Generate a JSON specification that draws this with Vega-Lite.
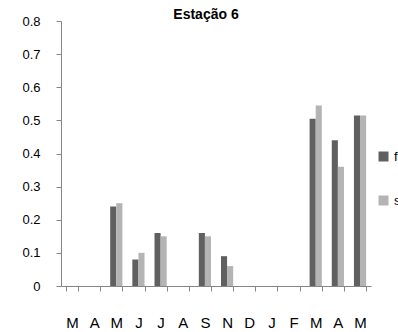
{
  "$schema": "https://vega.github.io/schema/vega-lite/v6.json",
  "width": 310,
  "height": 265,
  "padding": {"left": 21, "top": 8, "right": 0, "bottom": 0},
  "background": "white",
  "title": {"text": "Estação 6", "fontSize": 14, "font": "Liberation Sans", "fontWeight": "bold", "color": "#000000", "anchor": "middle", "offset": -7, "dx": -10},
  "data": {"values": [
    {"k": "M1", "serie": "fundo", "v": 0.24},
    {"k": "M1", "serie": "superfície", "v": 0.25},
    {"k": "J1", "serie": "fundo", "v": 0.08},
    {"k": "J1", "serie": "superfície", "v": 0.10},
    {"k": "J2", "serie": "fundo", "v": 0.16},
    {"k": "J2", "serie": "superfície", "v": 0.15},
    {"k": "S", "serie": "fundo", "v": 0.16},
    {"k": "S", "serie": "superfície", "v": 0.15},
    {"k": "N", "serie": "fundo", "v": 0.09},
    {"k": "N", "serie": "superfície", "v": 0.06},
    {"k": "M2", "serie": "fundo", "v": 0.505},
    {"k": "M2", "serie": "superfície", "v": 0.545},
    {"k": "A2", "serie": "fundo", "v": 0.44},
    {"k": "A2", "serie": "superfície", "v": 0.36},
    {"k": "M3", "serie": "fundo", "v": 0.515},
    {"k": "M3", "serie": "superfície", "v": 0.515}
  ]},
  "mark": {"type": "bar"},
  "encoding": {
    "x": {
      "field": "k", "type": "nominal",
      "scale": {"domain": ["M0","A0","M1","J1","J2","A1","S","N","D","J3","F","M2","A2","M3"], "paddingInner": 0.45, "paddingOuter": 0.22},
      "axis": {"title": null, "labelAngle": 0, "labelExpr": "substring(datum.label,0,1)", "labelFont": "Liberation Sans", "labelFontSize": 15, "labelColor": "#000000", "labelPadding": 24, "tickBand": "extent", "tickColor": "#868686", "domainColor": "#868686", "tickSize": 5}
    },
    "xOffset": {"field": "serie", "type": "nominal", "scale": {"paddingInner": 0}},
    "y": {
      "field": "v", "type": "quantitative",
      "scale": {"domain": [0, 0.8]},
      "axis": {"title": null, "values": [0,0.1,0.2,0.3,0.4,0.5,0.6,0.7,0.8], "format": "~g", "labelOverlap": false, "grid": false, "labelFont": "Liberation Sans", "labelFontSize": 13, "labelColor": "#000000", "labelPadding": 16, "tickColor": "#868686", "domainColor": "#868686", "tickSize": 5}
    },
    "color": {
      "field": "serie", "type": "nominal",
      "scale": {"domain": ["fundo", "superfície"], "range": ["#606060", "#b4b4b4"]},
      "legend": {"title": null, "symbolType": "square", "symbolSize": 100, "symbolStrokeWidth": 0, "labelFont": "Liberation Sans", "labelFontSize": 13, "rowPadding": 30, "orient": "none", "legendX": 316, "legendY": 129, "padding": 0}
    }
  },
  "config": {"view": {"stroke": null}}
}
